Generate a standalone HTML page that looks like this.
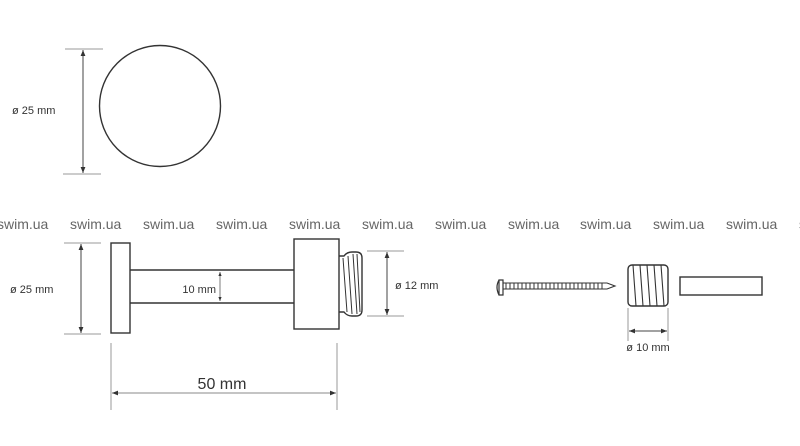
<!DOCTYPE html>
<html><head><meta charset="utf-8"><style>
html,body{margin:0;padding:0;background:#fff;width:800px;height:446px;overflow:hidden}
svg{display:block}
text{font-family:"Liberation Sans",sans-serif}
</style></head><body>
<svg width="800" height="446" viewBox="0 0 800 446" xmlns="http://www.w3.org/2000/svg">
<defs>
<marker id="a" viewBox="0 0 10 10" refX="10" refY="5" markerWidth="6" markerHeight="6" orient="auto-start-reverse"><path d="M0,1 L10,5 L0,9 z" fill="#333"/></marker>
</defs>
<g fill="none" stroke="#999" stroke-width="1">
<line x1="65" y1="49" x2="103" y2="49"/><line x1="63" y1="174" x2="101" y2="174"/>
<line x1="64" y1="243" x2="101" y2="243"/><line x1="64" y1="334" x2="101" y2="334"/>
<line x1="111" y1="343" x2="111" y2="410"/><line x1="337" y1="343" x2="337" y2="410"/>
<line x1="367" y1="251" x2="404" y2="251"/><line x1="367" y1="316" x2="404" y2="316"/>
<line x1="628" y1="308" x2="628" y2="341"/><line x1="668" y1="308" x2="668" y2="341"/>
</g>
<g stroke="#444" stroke-width="1" fill="none">
<line x1="83" y1="50" x2="83" y2="173" marker-start="url(#a)" marker-end="url(#a)"/>
<line x1="81" y1="244" x2="81" y2="333" marker-start="url(#a)" marker-end="url(#a)"/>
<line x1="220" y1="272" x2="220" y2="301" marker-start="url(#a)" marker-end="url(#a)" stroke-width="0.7"/>
<line x1="387" y1="252" x2="387" y2="315" marker-start="url(#a)" marker-end="url(#a)"/>
<line x1="112" y1="393" x2="336" y2="393" marker-start="url(#a)" marker-end="url(#a)" stroke="#888"/>
<line x1="629" y1="331" x2="667" y2="331" marker-start="url(#a)" marker-end="url(#a)"/>
</g>
<g fill="none" stroke="#333" stroke-width="1.4">
<circle cx="160" cy="106" r="60.5"/>
<rect x="111" y="243" width="19" height="90"/>
<line x1="130" y1="270" x2="294" y2="270"/><line x1="130" y1="303" x2="294" y2="303"/>
<rect x="294" y="239" width="45" height="90"/>
<path d="M339,256 h5 q3,-4 8,-4 h4 q6,0 6,6 v52 q0,6 -6,6 h-4 q-5,0 -8,-4 h-5"/>
<path d="M343,258 l4,54 M348,256 l4,58 M353,254 l4,60 M357,254 l3,58" stroke-width="1"/>
<path d="M499,280 q-4,7 0,15 M499,280 h4 v15 h-4 z" stroke-width="1.2"/>
<path d="M503,283 h104 l8,3 l-8,3 h-104" stroke-width="1.1"/>
<path d="M506,283 v6 M510,283 v6 M514,283 v6 M518,283 v6 M522,283 v6 M526,283 v6 M530,283 v6 M534,283 v6 M538,283 v6 M542,283 v6 M546,283 v6 M550,283 v6 M554,283 v6 M558,283 v6 M562,283 v6 M566,283 v6 M570,283 v6 M574,283 v6 M578,283 v6 M582,283 v6 M586,283 v6 M590,283 v6 M594,283 v6 M598,283 v6 M602,283 v6" stroke-width="1"/>
<rect x="628" y="265" width="40" height="41" rx="4"/>
<path d="M633,265 l3,41 M640,265 l3,41 M647,265 l3,41 M654,265 l3,41 M661,265 l3,41" stroke-width="1.1"/>
<rect x="680" y="277" width="82" height="18"/>
</g>
<g fill="#333" font-size="11">
<text x="12" y="114">ø 25 mm</text>
<text x="10" y="293">ø 25 mm</text>
<text x="216" y="293" text-anchor="end">10 mm</text>
<text x="395" y="289">ø 12 mm</text>
<text x="648" y="351" text-anchor="middle">ø 10 mm</text>
</g>
<text x="222" y="389" text-anchor="middle" font-size="16" fill="#333">50 mm</text>
<g fill="#666" font-size="14">
<text x="-3" y="229">swim.ua</text><text x="70" y="229">swim.ua</text><text x="143" y="229">swim.ua</text>
<text x="216" y="229">swim.ua</text><text x="289" y="229">swim.ua</text><text x="362" y="229">swim.ua</text>
<text x="435" y="229">swim.ua</text><text x="508" y="229">swim.ua</text><text x="580" y="229">swim.ua</text>
<text x="653" y="229">swim.ua</text><text x="726" y="229">swim.ua</text><text x="799" y="229">swim.ua</text>
</g>
</svg>
</body></html>
